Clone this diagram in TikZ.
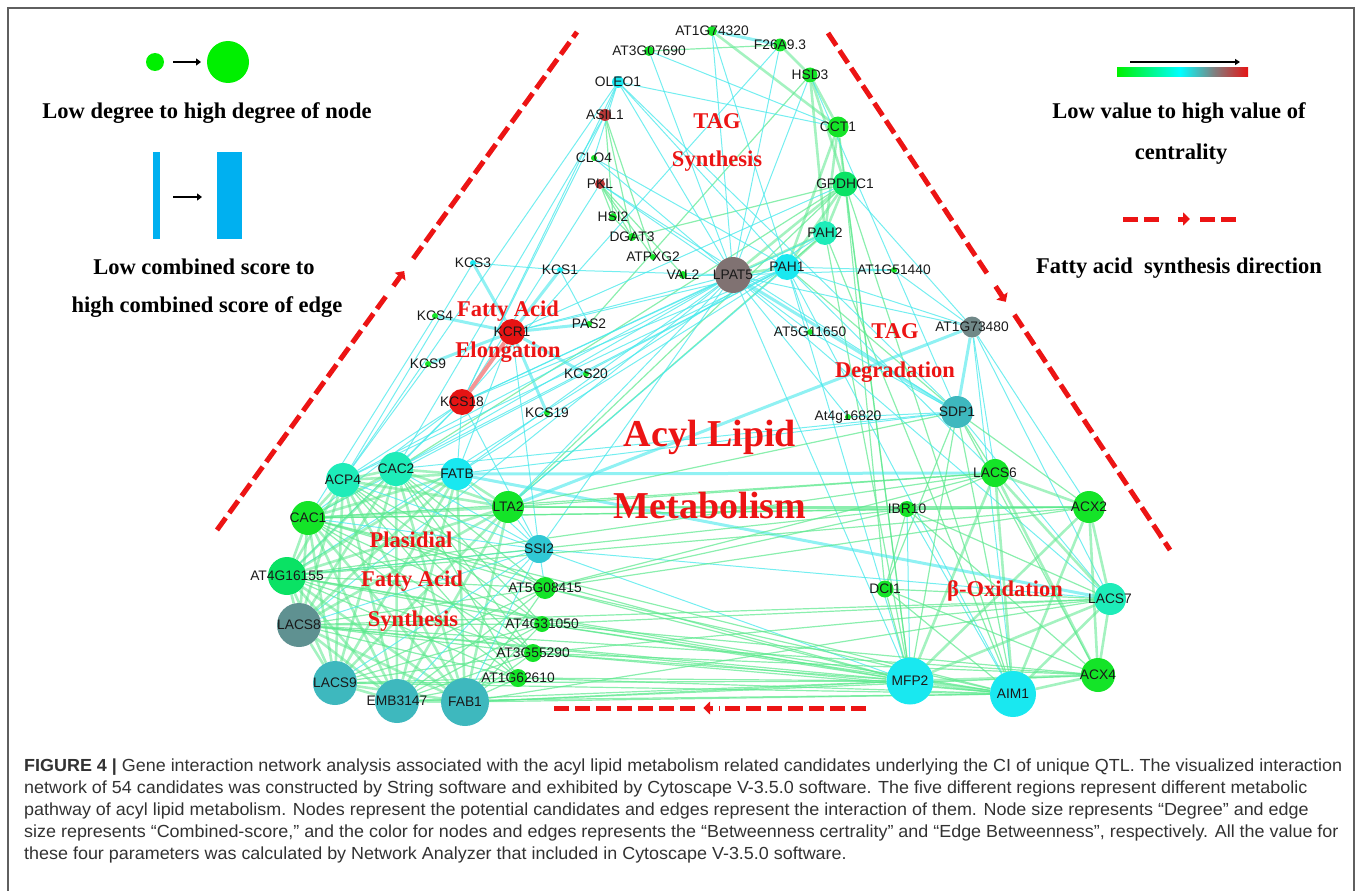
\documentclass[tikz,border=0pt]{standalone}
\usepackage{fontspec}
\setmainfont{Liberation Serif}
\newfontfamily\genefont{Liberation Sans}
\newfontfamily\capfont[FakeStretch=1.025]{Liberation Sans}
\usetikzlibrary{arrows.meta,calc,backgrounds}

\definecolor{ngreen}{RGB}{20,228,40}
\definecolor{nspring}{RGB}{10,226,100}
\definecolor{naqua}{RGB}{30,236,185}
\definecolor{ncyan}{RGB}{25,232,240}
\definecolor{nblue}{RGB}{48,200,212}
\definecolor{nteal}{RGB}{62,184,190}
\definecolor{nslate}{RGB}{95,145,145}
\definecolor{ngray}{RGB}{112,136,136}
\definecolor{nbrown}{RGB}{128,114,114}
\definecolor{nred}{RGB}{230,20,20}
\definecolor{nmaroon}{RGB}{185,55,55}
\definecolor{ecyan}{RGB}{70,232,235}
\definecolor{egreen}{RGB}{90,232,140}
\definecolor{tred}{RGB}{236,20,20}
\definecolor{legblue}{RGB}{0,176,240}
\definecolor{leggreen}{RGB}{0,240,0}
\definecolor{framegray}{RGB}{95,95,95}
\definecolor{captext}{RGB}{50,50,50}

\begin{document}
\begin{tikzpicture}[x=1pt, y=-1pt,
    gene/.style={circle, inner sep=0pt, minimum size=#1},
    lbl/.style={font=\genefont\fontsize{13.8}{14}\selectfont, inner sep=0pt, text=black!90},
    area/.style={font=\bfseries\fontsize{22.5}{24}\selectfont, text=tred, inner sep=0pt},
    big/.style={font=\bfseries\fontsize{38}{40}\selectfont, text=tred, inner sep=0pt},
    legend/.style={font=\bfseries\fontsize{22.5}{24}\selectfont, inner sep=0pt},
    capline/.style={font=\capfont\fontsize{17.5}{19}\selectfont, text=captext, inner sep=0pt, anchor=base west},
    cy/.style={draw=ecyan, line width=1pt, draw opacity=.75},
    cyw/.style={draw=ecyan, line width=3pt, draw opacity=.6},
    gr/.style={draw=egreen, line width=1.2pt, draw opacity=.7},
    grw/.style={draw=egreen, line width=2.6pt, draw opacity=.55},
    flow/.style={draw=tred, line width=5pt, dash pattern=on 15pt off 6pt},
    flowtip/.style={draw=tred, line width=5pt, -{Triangle[length=7pt, width=13pt]}},
  ]
  \useasboundingbox (0,0) rectangle (1358,891);
  \draw[framegray, line width=1.2pt] (8,891) -- (8,8) -- (1354,8) -- (1354,891);

  % TAG synthesis
  \node[gene=10pt, fill=ngreen, label={[lbl]center:AT1G74320}] (AT1G74320) at (712,31) {};
  \node[gene=13pt, fill=ngreen, label={[lbl]center:F26A9.3}] (F26A93) at (780,45) {};
  \node[gene=10pt, fill=ngreen, label={[lbl]center:AT3G07690}] (AT3G07690) at (649,51) {};
  \node[gene=15pt, fill=ngreen, label={[lbl]center:HSD3}] (HSD3) at (810,75) {};
  \node[gene=12pt, fill=ncyan, label={[lbl]center:OLEO1}] (OLEO1) at (618,82) {};
  \node[gene=12pt, fill=nmaroon, label={[lbl]center:ASIL1}] (ASIL1) at (605,115) {};
  \node[gene=21pt, fill=ngreen, label={[lbl]center:CCT1}] (CCT1) at (838,127) {};
  \node[gene=6pt, fill=ngreen, label={[lbl]center:CLO4}] (CLO4) at (594,158) {};
  \node[gene=10pt, fill=nmaroon, label={[lbl]center:PKL}] (PKL) at (600,184) {};
  \node[gene=25pt, fill=nspring, label={[lbl]center:GPDHC1}] (GPDHC1) at (845,184) {};
  \node[gene=8pt, fill=ngreen, label={[lbl]center:HSI2}] (HSI2) at (613,217) {};
  \node[gene=8pt, fill=ngreen, label={[lbl]center:DGAT3}] (DGAT3) at (632,237) {};
  \node[gene=24pt, fill=naqua, label={[lbl]center:PAH2}] (PAH2) at (825,233) {};
  \node[gene=6pt, fill=ngreen, label={[lbl]center:ATPXG2}] (ATPXG2) at (653,257) {};
  \node[gene=8pt, fill=ngreen, label={[lbl]center:VAL2}] (VAL2) at (683,275) {};
  \node[gene=36pt, fill=nbrown, label={[lbl]center:LPAT5}] (LPAT5) at (733,275) {};
  \node[gene=26pt, fill=ncyan, label={[lbl]center:PAH1}] (PAH1) at (787,267) {};

  % fatty acid elongation
  \node[gene=6pt, fill=ncyan, label={[lbl]center:KCS3}] (KCS3) at (473,263) {};
  \node[gene=6pt, fill=ncyan, label={[lbl]center:KCS1}] (KCS1) at (560,270) {};
  \node[gene=6pt, fill=ngreen, label={[lbl]center:KCS4}] (KCS4) at (435,316) {};
  \node[gene=26pt, fill=nred, label={[lbl]center:KCR1}] (KCR1) at (512,332) {};
  \node[gene=6pt, fill=ngreen, label={[lbl]center:PAS2}] (PAS2) at (589,324) {};
  \node[gene=6pt, fill=ngreen, label={[lbl]center:KCS9}] (KCS9) at (428,364) {};
  \node[gene=6pt, fill=ngreen, label={[lbl]center:KCS20}] (KCS20) at (586,374) {};
  \node[gene=26pt, fill=nred, label={[lbl]center:KCS18}] (KCS18) at (462,402) {};
  \node[gene=6pt, fill=ngreen, label={[lbl]center:KCS19}] (KCS19) at (547,413) {};

  % TAG degradation
  \node[gene=6pt, fill=ngreen, label={[lbl]center:AT1G51440}] (AT1G51440) at (894,270) {};
  \node[gene=6pt, fill=ngreen, label={[lbl]center:AT5G11650}] (AT5G11650) at (810,332) {};
  \node[gene=21pt, fill=ngray, label={[lbl]center:AT1G73480}] (AT1G73480) at (972,327) {};
  \node[gene=32pt, fill=nteal, label={[lbl]center:SDP1}] (SDP1) at (957,412) {};
  \node[gene=6pt, fill=ngreen, label={[lbl]center:At4g16820}] (At4g16820) at (848,417) {};

  % beta-oxidation
  \node[gene=28pt, fill=ngreen, label={[lbl]center:LACS6}] (LACS6) at (995,473) {};
  \node[gene=32pt, fill=ngreen, label={[lbl]center:ACX2}] (ACX2) at (1089,507) {};
  \node[gene=16pt, fill=ngreen, label={[lbl]center:IBR10}] (IBR10) at (907,509) {};
  \node[gene=17pt, fill=ngreen, label={[lbl]center:DCI1}] (DCI1) at (885,589) {};
  \node[gene=32pt, fill=naqua, label={[lbl]center:LACS7}] (LACS7) at (1110,599) {};
  \node[gene=47pt, fill=ncyan, label={[lbl]center:MFP2}] (MFP2) at (910,681) {};
  \node[gene=46pt, fill=ncyan, label={[lbl]center:AIM1}] (AIM1) at (1013,694) {};
  \node[gene=34pt, fill=ngreen, label={[lbl]center:ACX4}] (ACX4) at (1098,675) {};

  % plastidial fatty acid synthesis
  \node[gene=34pt, fill=naqua, label={[lbl]center:ACP4}] (ACP4) at (343,480) {};
  \node[gene=34pt, fill=naqua, label={[lbl]center:CAC2}] (CAC2) at (396,469) {};
  \node[gene=32pt, fill=ncyan, label={[lbl]center:FATB}] (FATB) at (457,474) {};
  \node[gene=32pt, fill=ngreen, label={[lbl]center:LTA2}] (LTA2) at (508,507) {};
  \node[gene=34pt, fill=ngreen, label={[lbl]center:CAC1}] (CAC1) at (308,518) {};
  \node[gene=28pt, fill=nblue, label={[lbl]center:SSI2}] (SSI2) at (539,549) {};
  \node[gene=38pt, fill=nspring, label={[lbl]center:AT4G16155}] (AT4G16155) at (287,576) {};
  \node[gene=22pt, fill=ngreen, label={[lbl]center:AT5G08415}] (AT5G08415) at (545,588) {};
  \node[gene=44pt, fill=nslate, label={[lbl]center:LACS8}] (LACS8) at (299,625) {};
  \node[gene=16pt, fill=ngreen, label={[lbl]center:AT4G31050}] (AT4G31050) at (542,624) {};
  \node[gene=18pt, fill=ngreen, label={[lbl]center:AT3G55290}] (AT3G55290) at (533,653) {};
  \node[gene=18pt, fill=ngreen, label={[lbl]center:AT1G62610}] (AT1G62610) at (518,678) {};
  \node[gene=44pt, fill=nteal, label={[lbl]center:LACS9}] (LACS9) at (335,683) {};
  \node[gene=44pt, fill=nteal, label={[lbl]center:EMB3147}] (EMB3147) at (397,701) {};
  \node[gene=48pt, fill=nteal, label={[lbl]center:FAB1}] (FAB1) at (465,702) {};

  \begin{pgfonlayer}{background}
    % TAG synthesis edges
    \foreach \a/\b in {AT1G74320/CCT1, F26A93/HSD3, HSD3/CCT1, CCT1/GPDHC1, GPDHC1/PAH2, PAH2/PAH1,
        GPDHC1/PAH1, PAH1/LPAT5, PAH2/LPAT5, GPDHC1/LPAT5, CCT1/PAH1, CCT1/PAH2, HSD3/GPDHC1, HSD3/PAH2}
      \draw[grw] (\a) -- (\b);
    \draw[cyw] (AT1G74320) -- (F26A93);
    \foreach \a/\b in {AT3G07690/F26A93, ASIL1/HSI2, ASIL1/DGAT3, ASIL1/ATPXG2, PKL/HSI2, PKL/DGAT3,
        PKL/ATPXG2, PKL/VAL2, HSI2/DGAT3, HSD3/PAS2, DGAT3/GPDHC1, GPDHC1/DCI1, GPDHC1/MFP2,
        GPDHC1/AIM1, PAH2/AIM1, PAH2/MFP2, CCT1/MFP2, PAH1/SDP1, LTA2/GPDHC1, LTA2/PAH2, CAC2/GPDHC1}
      \draw[gr] (\a) -- (\b);
    \foreach \a/\b in {AT3G07690/LPAT5, AT3G07690/CCT1, AT1G74320/LPAT5, AT1G74320/PAH1, F26A93/LPAT5,
        F26A93/KCS18, OLEO1/ASIL1, OLEO1/CLO4, OLEO1/LPAT5, OLEO1/PAH1, OLEO1/KCS18, OLEO1/SDP1,
        OLEO1/CCT1, OLEO1/ACP4, ASIL1/KCS18, ASIL1/CAC2, CLO4/LPAT5, CLO4/PAH1, PKL/LPAT5, PKL/KCS18,
        PKL/SDP1, VAL2/LPAT5, KCS3/KCS1, KCS1/LPAT5, KCS1/PAS2, HSD3/LPAT5, HSD3/SDP1}
      \draw[cy] (\a) -- (\b);
    % elongation edges
    \foreach \b in {KCS3, KCS1, KCS4, PAS2, KCS9, KCS20, KCS19}
      \draw[cyw] (KCR1) -- (\b);
    \draw[draw=nred!45, line width=4pt] (KCR1) -- (KCS18);
    \foreach \a/\b in {KCR1/LPAT5, KCR1/PAH1, KCR1/GPDHC1, KCS18/LPAT5, KCS18/PAH1, KCS18/PAH2,
        KCS18/ACP4, KCS18/CAC2, KCS18/FATB, KCS18/CAC1, KCS18/SSI2, KCS18/AT4G16155, KCS3/ACP4,
        KCS4/CAC1, KCS9/ACP4, KCR1/FATB, KCR1/SSI2, ACP4/LPAT5, CAC2/LPAT5, FATB/LPAT5, LTA2/LPAT5,
        SSI2/LPAT5, LTA2/PAH1, CAC2/PAH1, FATB/PAH1, ACP4/PAH1, LACS8/LPAT5, CAC1/PAH1, AT4G16155/PAH2}
      \draw[cy] (\a) -- (\b);
    % TAG degradation edges
    \foreach \a/\b in {LPAT5/AT1G73480, PAH1/AT1G73480, AT1G51440/AT1G73480, AT1G51440/LPAT5,
        AT1G51440/PAH1, AT5G11650/SDP1, AT5G11650/LPAT5, AT5G11650/PAH1, At4g16820/SDP1,
        At4g16820/LPAT5, AT1G73480/LACS6, AT1G73480/LACS7, AT1G73480/ACX2, AT1G73480/AIM1,
        AT1G73480/GPDHC1, SDP1/LACS7, SDP1/FATB, SDP1/CAC2, PAH1/LACS6, PAH1/AIM1, PAH1/MFP2,
        LPAT5/MFP2, IBR10/MFP2, IBR10/AIM1, LPAT5/LACS7, SSI2/MFP2, SSI2/LACS7}
      \draw[cy] (\a) -- (\b);
    \foreach \a/\b in {AT1G73480/SDP1, LPAT5/SDP1, AT1G73480/LTA2, FATB/LACS6, FATB/LACS7}
      \draw[cyw] (\a) -- (\b);
    % beta-oxidation edges
    \foreach \a [count=\i] in {LACS6, ACX2, LACS7, ACX4, AIM1, MFP2}
      \foreach \b [count=\j] in {LACS6, ACX2, LACS7, ACX4, AIM1, MFP2}
        {\ifnum\j>\i \draw[grw] (\a) -- (\b); \fi}
    \foreach \a/\b in {IBR10/DCI1, IBR10/ACX2, IBR10/LACS6, IBR10/LACS7, IBR10/ACX4, DCI1/MFP2,
        DCI1/AIM1, DCI1/ACX4, DCI1/LACS7, SDP1/LACS6, SDP1/ACX2, SDP1/AIM1, SDP1/MFP2, SDP1/ACX4,
        SDP1/DCI1, SDP1/LTA2}
      \draw[gr] (\a) -- (\b);
    % plastidial edges
    \foreach \a [count=\i] in {ACP4, CAC2, FATB, LTA2, CAC1, AT4G16155, LACS8, LACS9, EMB3147, FAB1}
      \foreach \b [count=\j] in {ACP4, CAC2, FATB, LTA2, CAC1, AT4G16155, LACS8, LACS9, EMB3147, FAB1}
        {\ifnum\j>\i \draw[grw] (\a) -- (\b); \fi}
    \foreach \a in {AT5G08415, AT4G31050, AT3G55290, AT1G62610}
      \foreach \b in {LACS8, LACS9, EMB3147, FAB1, CAC1, AT4G16155, ACP4, CAC2}
        \draw[gr] (\a) -- (\b);
    \foreach \b in {LACS8, LACS9, EMB3147, FAB1, CAC1, AT4G16155, ACP4, CAC2, FATB, LTA2, AT5G08415}
      \draw[cy] (SSI2) -- (\b);
    % cross edges
    \foreach \a in {LACS8, LACS9, EMB3147, FAB1, AT1G62610, AT3G55290, AT4G31050, AT5G08415, AT4G16155, CAC1}
      \foreach \b in {MFP2, AIM1}
        \draw[gr] (\a) -- (\b);
    \foreach \a in {CAC1, AT4G16155, LTA2, AT5G08415}
      \foreach \b in {ACX2, LACS6, IBR10}
        \draw[gr] (\a) -- (\b);
    \foreach \a in {LACS8, AT4G31050, AT3G55290, FAB1}
      \foreach \b in {ACX4, LACS7}
        \draw[gr] (\a) -- (\b);
  \end{pgfonlayer}

  % region labels
  \node[area] (tagsyn1) at (717,121) {TAG};
  \node[area] (tagsyn2) at (717,161) {Synthesis};
  \node[area] (elong1) at (508,311) {Fatty Acid};
  \node[area] (elong2) at (508,352) {Elongation};
  \node[area] (tagdeg1) at (895,331) {TAG};
  \node[area] (tagdeg2) at (895,372) {Degradation};
  \node[big] (acyl1) at (710,437) {Acyl Lipid};
  \node[big] (acyl2) at (710,505) {Metabolism};
  \node[area] (plas1) at (411,540) {Plasidial};
  \node[area] (plas2) at (412,581) {Fatty Acid};
  \node[area] (plas3) at (413,621) {Synthesis};
  \node[area] (beta) at (1005,591) {β-Oxidation};

  % synthesis direction
  \coordinate (L0) at (217,530);
  \coordinate (L1) at (577,32);
  \coordinate (R0) at (828,33);
  \coordinate (R1) at (1170,550);
  \coordinate (B0) at (866,708);
  \coordinate (B1) at (553,708);
  \foreach \s/\e in {L0/L1, R0/R1, B0/B1} {
    \draw[flow] (\s) -- ($(\s)!0.47!(\e)$);
    \draw[flow] ($(\s)!0.545!(\e)$) -- (\e);
    \draw[flowtip] ($(\s)!0.49!(\e)$) -- ($(\s)!0.52!(\e)$);
  }

  % legend: node degree
  \node[circle, fill=leggreen, minimum size=18pt, inner sep=0pt] (small) at (155,62) {};
  \node[circle, fill=leggreen, minimum size=42pt, inner sep=0pt] (large) at (228,62) {};
  \draw[line width=2.5pt, -{Triangle[length=5pt, width=7pt]}] (173,62) -- (201,62);
  \node[legend] (degtext) at (207,113) {Low degree to high degree of node};
  % legend: combined score
  \fill[legblue] (153,152) rectangle (160,239);
  \fill[legblue] (217,152) rectangle (242,239);
  \draw[line width=2.5pt, -{Triangle[length=5pt, width=7pt]}] (173,197) -- (202,197);
  \node[legend] (scoretext1) at (204,267) {Low combined score to};
  \node[legend] (scoretext2) at (207,307) {high combined score of edge};
  % legend: centrality
  \shade[left color=leggreen, right color=cyan] (1117,68) rectangle (1180,77);
  \shade[left color=cyan, right color=gray] (1180,68) rectangle (1214,77);
  \shade[left color=gray, right color=nred] (1214,68) rectangle (1248,77);
  \draw[line width=1.8pt, -{Triangle[length=5pt, width=6pt]}] (1130,62) -- (1240,62);
  \node[legend] (centext1) at (1179,113) {Low value to high value of};
  \node[legend] (centext2) at (1181,154) {centrality};
  % legend: direction
  \draw[flow] (1123,219) -- (1162,219);
  \draw[flow] (1200,219) -- (1239,219);
  \draw[flowtip] (1178,219) -- (1190,219);
  \node[legend] (dirtext) at (1179,268) {Fatty acid\ \ synthesis direction};

  % caption
  \node[capline] (cap1) at (24,771) {\textbf{FIGURE 4 |} Gene interaction network analysis associated with the acyl lipid metabolism related candidates underlying the CI of unique QTL. The visualized interaction};
  \node[capline] (cap2) at (24,793) {network of 54 candidates was constructed by String software and exhibited by Cytoscape V-3.5.0 software. The five different regions represent different metabolic};
  \node[capline] (cap3) at (24,815) {pathway of acyl lipid metabolism. Nodes represent the potential candidates and edges represent the interaction of them. Node size represents “Degree” and edge};
  \node[capline] (cap4) at (24,837) {size represents “Combined-score,” and the color for nodes and edges represents the “Betweenness certrality” and “Edge Betweenness”, respectively. All the value for};
  \node[capline] (cap5) at (24,859) {these four parameters was calculated by Network Analyzer that included in Cytoscape V-3.5.0 software.};
\end{tikzpicture}
\end{document}
